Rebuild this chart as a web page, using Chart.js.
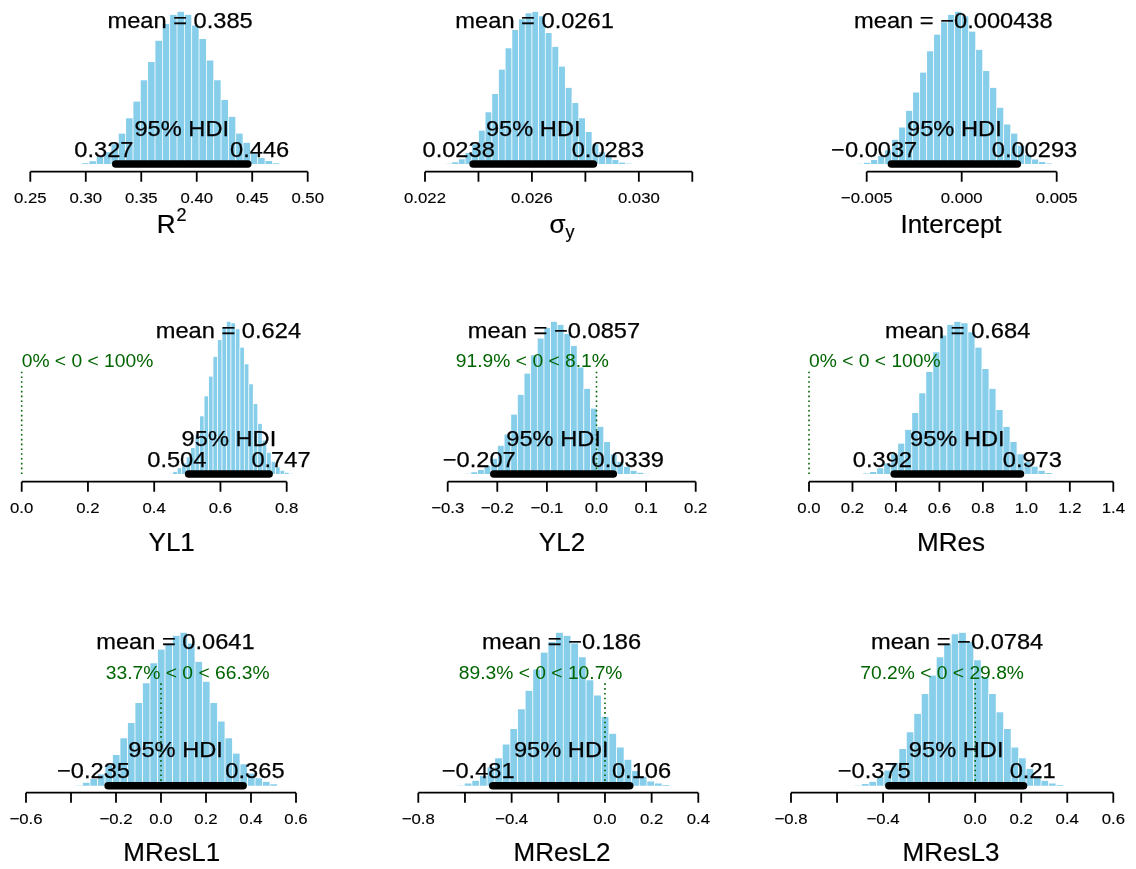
<!DOCTYPE html>
<html>
<head>
<meta charset="utf-8">
<script src="https://cdn.jsdelivr.net/npm/chart.js@4.4.1/dist/chart.umd.min.js"></script>
<style>
  html, body { margin: 0; padding: 0; background: #fff; }
  #wrap { position: relative; width: 1136px; height: 869px; overflow: hidden; }
  #wrap canvas { position: absolute; left: 0; top: 0; }
</style>
</head>
<body>
<div id="wrap"></div>
<script>
// ─── Posterior summaries ──────────────────────────────────────────────────
const titles = ['R2', 'sigma_y', 'Intercept', 'YL1', 'YL2', 'MRes', 'MResL1', 'MResL2', 'MResL3'];
const means = [0.385, 0.0261, -0.000438, 0.624, -0.0857, 0.684, 0.0641, -0.186, -0.0784];
const hdiLow = [0.327, 0.0238, -0.0037, 0.504, -0.207, 0.392, -0.235, -0.481, -0.375];
const hdiHigh = [0.446, 0.0283, 0.00293, 0.747, 0.0339, 0.973, 0.365, 0.106, 0.21];
const pctBelowZero = [null, null, null, 0, 91.9, 0, 33.7, 89.3, 70.2];
const pctAboveZero = [null, null, null, 100, 8.1, 100, 66.3, 10.7, 29.8];

// first histogram break (smallest sample); bin width is HDI width / 18
const binStarts = [0.2963, 0.02275, -0.005526, 0.4426, -0.2665, 0.247, -0.3822, -0.6354, -0.5263];

// bar heights, % of the tallest bar
const r2Heights = [0.5, 1.8, 4.8, 7.7, 13, 20, 30, 41, 55, 67, 81, 92, 98, 100, 98, 91, 82, 68, 55, 42, 31, 20, 14, 7, 4, 2, 0.5];
const sigmaHeights = [0.2, 1.1, 3.1, 7.3, 13, 22, 34, 46, 62, 76, 88, 95, 99, 100, 97, 86, 77, 64, 50, 40, 30, 21, 13, 7.7, 5.5, 2.6, 1, 0.3];
const interceptHeights = [0.2, 0.9, 2.6, 5.3, 9, 16, 24, 35, 47, 60, 74, 85, 93, 98, 100, 97, 87, 75, 61, 50, 37, 26, 20, 12, 6, 3, 1.3, 0.4];
const yl1Heights = [0.2, 1.5, 3.7, 7, 11, 17, 26, 38, 51, 64, 77, 88, 96, 100, 99, 95, 83, 72, 59, 46, 33, 22, 14, 8, 4.5, 2.2, 0.9, 0.2];
const yl2Heights = [0.2, 1.1, 2.6, 5.5, 10, 18.6, 26, 39, 52, 66, 78, 89, 96, 100, 98, 92, 84, 70, 56, 43, 31, 21, 13, 8, 4.8, 2.2, 0.9, 0.2];
const mresHeights = [0.4, 1.3, 3.8, 7, 13, 20, 29, 40, 53, 67, 80, 91, 98, 100, 99, 93, 83, 69, 56, 42, 31, 21, 13, 8, 4.9, 2.2, 0.7];
const mresL1Heights = [0.2, 2, 4.4, 7.4, 13.5, 20, 31, 41, 54, 67, 80, 89, 93, 98, 100, 93, 81, 68, 54, 42, 31, 21, 14, 8, 4.8, 2.6, 0.9];
const mresL2Heights = [0.2, 1.5, 3.3, 6.5, 12, 18, 27, 37, 50, 62, 76, 87, 94, 100, 98, 93, 84, 69, 59, 45, 34, 25, 17, 9.6, 5.9, 2.8, 1.5, 0.4];
const mresL3Heights = [0.2, 1.1, 2.6, 5.9, 10, 15, 24, 35, 47, 60, 72, 84, 93, 99, 100, 94, 82, 71, 60, 48, 37, 25, 18, 11, 6.3, 3.3, 1.5, 0.4];
const heights = [r2Heights, sigmaHeights, interceptHeights, yl1Heights, yl2Heights, mresHeights, mresL1Heights, mresL2Heights, mresL3Heights];

// x axis ticks and their labels ('' = tick without label)
const tickValues = [
  [0.25, 0.30, 0.35, 0.40, 0.45, 0.50],
  [0.022, 0.024, 0.026, 0.028, 0.030, 0.032],
  [-0.005, 0, 0.005],
  [0, 0.2, 0.4, 0.6, 0.8],
  [-0.3, -0.2, -0.1, 0, 0.1, 0.2],
  [0, 0.2, 0.4, 0.6, 0.8, 1.0, 1.2, 1.4],
  [-0.6, -0.4, -0.2, 0, 0.2, 0.4, 0.6],
  [-0.8, -0.6, -0.4, -0.2, 0, 0.2, 0.4],
  [-0.8, -0.6, -0.4, -0.2, 0, 0.2, 0.4, 0.6],
];
const tickLabels = [
  ['0.25', '0.30', '0.35', '0.40', '0.45', '0.50'],
  ['0.022', '', '0.026', '', '0.030', ''],
  ['\u22120.005', '0.000', '0.005'],
  ['0.0', '0.2', '0.4', '0.6', '0.8'],
  ['\u22120.3', '\u22120.2', '\u22120.1', '0.0', '0.1', '0.2'],
  ['0.0', '0.2', '0.4', '0.6', '0.8', '1.0', '1.2', '1.4'],
  ['\u22120.6', '', '\u22120.2', '0.0', '0.2', '0.4', '0.6'],
  ['\u22120.8', '', '\u22120.4', '', '0.0', '0.2', '0.4'],
  ['\u22120.8', '', '\u22120.4', '', '0.0', '0.2', '0.4', '0.6'],
];

// ─── Layout (pixels on the page) ──────────────────────────────────────────
const W = 1136, H = 869;
const firstTickPx = [30.3, 425, 866.7, 21.7, 447.7, 809, 26, 418.3, 791];
const lastTickPx = [307.7, 692.3, 1056.7, 286.7, 695.7, 1113.3, 296, 698.3, 1113.3];
const rowGeom = [
  { top: 11.7, zero: 164, axis: 171.7, titleDy: 52 },
  { top: 321.7, zero: 474, axis: 481.7, titleDy: 60 },
  { top: 632.7, zero: 785.7, axis: 792.7, titleDy: 59 },
];
const titleCenterX = [171.7, 562, 951];
const FONT = '"Liberation Sans", Arial, Helvetica, sans-serif';
const SX = 1.1; // horizontal stretch of the reference lettering

const fmt = v => String(v).replace('-', '\u2212');

function drawText(ctx, str, x, y, size, frac, color, sx, weight) {
  ctx.save();
  ctx.font = `${size}px ${FONT}`;
  const w = ctx.measureText(str).width * sx;
  ctx.translate(x - w * frac, y);
  ctx.scale(sx, 1);
  ctx.fillStyle = color;
  ctx.textAlign = 'left';
  ctx.textBaseline = 'alphabetic';
  ctx.fillText(str, 0, 0);
  if (weight) {
    ctx.strokeStyle = color;
    ctx.lineWidth = weight;
    ctx.strokeText(str, 0, 0);
  }
  ctx.restore();
  return w;
}

function drawTitle(ctx, i, cx, base) {
  const name = titles[i];
  ctx.save();
  ctx.fillStyle = '#000';
  ctx.strokeStyle = '#000';
  ctx.lineWidth = 0.2;
  ctx.textBaseline = 'alphabetic';
  ctx.textAlign = 'left';
  const put = (s, x, y) => { ctx.fillText(s, x, y); ctx.strokeText(s, x, y); };
  if (name === 'R2') {
    ctx.font = `26px ${FONT}`;
    const a = ctx.measureText('R').width;
    ctx.font = `18px ${FONT}`;
    const b = ctx.measureText('2').width;
    const x0 = cx - (a + 1 + b) / 2;
    ctx.font = `26px ${FONT}`;
    put('R', x0, base);
    ctx.font = `18px ${FONT}`;
    put('2', x0 + a + 1, base - 12);
  } else if (name === 'sigma_y') {
    ctx.font = `26px ${FONT}`;
    const a = ctx.measureText('\u03c3').width;
    ctx.font = `18px ${FONT}`;
    const b = ctx.measureText('y').width;
    const x0 = cx - (a + b) / 2;
    ctx.font = `26px ${FONT}`;
    put('\u03c3', x0, base);
    ctx.font = `18px ${FONT}`;
    put('y', x0 + a, base + 5);
  } else {
    ctx.font = `26px ${FONT}`;
    ctx.textAlign = 'center';
    put(name, cx, base);
  }
  ctx.restore();
}

// ─── Annotations: HDI bar, zero line, axis, texts ─────────────────────────
const decor = {
  id: 'decor',
  afterDatasetsDraw(chart, args, opts) {
    const i = opts.idx;
    const g = rowGeom[Math.floor(i / 3)];
    const ctx = chart.ctx, xs = chart.scales.x, ys = chart.scales.y;
    const y0 = ys.getPixelForValue(0);
    const axisY = ys.getPixelForValue(ys.min);

    // comparison value line at 0
    if (pctBelowZero[i] !== null) {
      const xz = xs.getPixelForValue(0);
      ctx.save();
      ctx.strokeStyle = '#006400';
      ctx.lineWidth = 1.6;
      ctx.setLineDash([1.6, 3.2]);
      ctx.beginPath();
      ctx.moveTo(xz, y0);
      ctx.lineTo(xz, ys.getPixelForValue(0.96 * 0.7 * ys.max));
      ctx.stroke();
      ctx.restore();
    }

    // HDI bar
    ctx.save();
    ctx.strokeStyle = '#000';
    ctx.lineWidth = 7.5;
    ctx.lineCap = 'round';
    ctx.beginPath();
    ctx.moveTo(xs.getPixelForValue(hdiLow[i]), y0);
    ctx.lineTo(xs.getPixelForValue(hdiHigh[i]), y0);
    ctx.stroke();
    ctx.restore();

    // x axis
    const tv = tickValues[i];
    ctx.save();
    ctx.strokeStyle = '#000';
    ctx.lineWidth = 1.8;
    ctx.beginPath();
    ctx.moveTo(xs.getPixelForValue(tv[0]), axisY);
    ctx.lineTo(xs.getPixelForValue(tv[tv.length - 1]), axisY);
    tv.forEach(v => {
      const x = xs.getPixelForValue(v);
      ctx.moveTo(x, axisY);
      ctx.lineTo(x, axisY + 10);
    });
    ctx.stroke();
    ctx.restore();
    tv.forEach((v, k) => {
      if (tickLabels[i][k]) drawText(ctx, tickLabels[i][k], xs.getPixelForValue(v), axisY + 31.6, 15.5, 0.5, '#000', 1.08, 0.15);
    });

    // title
    drawTitle(ctx, i, titleCenterX[i % 3], axisY + g.titleDy + 9.4);

    // mean
    drawText(ctx, 'mean = ' + fmt(means[i]), xs.getPixelForValue(means[i]), g.top + 15.8, 21.5, 0.5, '#000', SX, 0.25);

    // HDI texts
    const mid = (hdiLow[i] + hdiHigh[i]) / 2;
    drawText(ctx, '95% HDI', xs.getPixelForValue(mid), y0 - 28.5, 21.5, 0.5, '#000', SX, 0.25);
    drawText(ctx, fmt(hdiLow[i]), xs.getPixelForValue(hdiLow[i]), y0 - 7.5, 21.5, 0.7, '#000', SX, 0.25);
    drawText(ctx, fmt(hdiHigh[i]), xs.getPixelForValue(hdiHigh[i]), y0 - 7.5, 21.5, 0.3, '#000', SX, 0.25);

    // % below / above zero
    if (pctBelowZero[i] !== null) {
      const txt = `${pctBelowZero[i]}% < 0 < ${pctAboveZero[i]}%`;
      drawText(ctx, txt, xs.getPixelForValue(0), ys.getPixelForValue(0.7 * ys.max), 17.5, pctBelowZero[i] / 100, '#006400', SX, 0);
    }
  },
};

// ─── Build the nine panels ────────────────────────────────────────────────
const wrap = document.getElementById('wrap');
titles.forEach((t, i) => {
  const g = rowGeom[Math.floor(i / 3)];
  const binW = (hdiHigh[i] - hdiLow[i]) / 18;
  const pts = heights[i].map((h, k) => ({ x: binStarts[i] + (k + 0.5) * binW, y: h }));
  const yMax = 100;
  const yMin = -(g.axis - g.zero) / (g.zero - g.top) * yMax;
  const tv = tickValues[i];

  const canvas = document.createElement('canvas');
  canvas.width = W;
  canvas.height = H;
  wrap.appendChild(canvas);

  new Chart(canvas, {
    type: 'bar',
    data: {
      datasets: [{
        data: pts,
        backgroundColor: '#87CEEB',
        borderColor: '#ffffff',
        borderWidth: { left: 0.7, right: 0.7, top: 0, bottom: 0 },
        borderSkipped: false,
        barPercentage: 1,
        categoryPercentage: 1,
        clip: false,
      }],
    },
    options: {
      responsive: false,
      animation: false,
      devicePixelRatio: 1,
      layout: {
        padding: { left: firstTickPx[i], right: W - lastTickPx[i], top: g.top, bottom: H - g.axis },
      },
      scales: {
        x: { type: 'linear', display: false, offset: false, min: tv[0], max: tv[tv.length - 1] },
        y: { display: false, min: yMin, max: yMax },
      },
      plugins: { legend: { display: false }, tooltip: { enabled: false }, decor: { idx: i } },
    },
    plugins: [decor],
  });
});
</script>
</body>
</html>
